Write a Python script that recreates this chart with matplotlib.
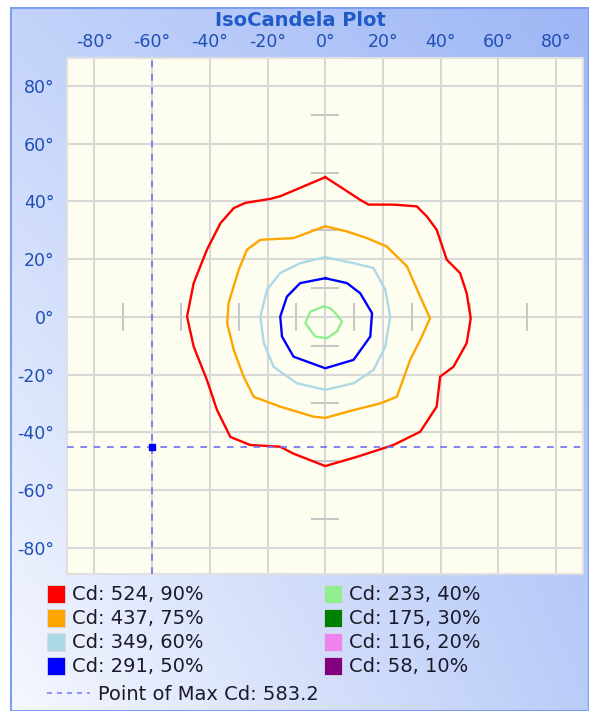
import numpy as np
import matplotlib.pyplot as plt
from matplotlib.patches import Rectangle
from matplotlib.lines import Line2D

# legend levels
cd_values = [524, 437, 349, 291, 233, 175, 116, 58]
percents = [90, 75, 60, 50, 40, 30, 20, 10]
level_colors = ['#FF0000', '#FFA500', '#ADD8E6', '#0000FF',
                '#90EE90', '#008000', '#EE82EE', '#800080']
max_cd = 583.2
max_point = (-60, -45)

# iso-candela contours (horizontal deg, vertical deg)
red_x = [0, 5, 12, 15, 23.6, 31.7, 35.2, 38.6, 42.1, 46.7, 49, 50.4, 49, 44.4, 39.8, 38.6,
         32.9, 23.6, 11, 0, -11, -15.6, -26, -32.9, -37.5, -41, -45.6, -47.9, -45.6, -41,
         -36.3, -31.7, -27.7, -19, -15.6, 0]
red_y = [48.4, 45.2, 40.6, 38.9, 38.9, 38.3, 34.8, 30.2, 19.8, 15.2, 8.2, -0.5, -9.1, -17.3,
         -20.7, -31.1, -39.8, -44.4, -48.5, -51.7, -47.4, -45, -44.4, -41.6, -32.3, -21.9,
         -10.3, 0.1, 11.7, 23.3, 32.5, 37.7, 39.5, 40.9, 41.8, 48.4]
orange_x = [0, 7.5, 14.4, 21.3, 28.3, 32.9, 36.3, 32.9, 29.4, 24.8, 19, 9.8, 0, -4, -15.6,
            -24.8, -28.3, -31.7, -34, -33.5, -30, -27.1, -22.5, -11, 0]
orange_y = [31.4, 29.6, 27.3, 24.4, 17.5, 7, -0.5, -8, -14.9, -27.7, -30, -32.3, -35, -34.6,
            -31.1, -27.7, -20.7, -11.5, -2.2, 4.8, 16.3, 23.3, 26.7, 27.3, 31.4]
lblue_x = [0, 9.8, 16.7, 20.8, 22.5, 20.8, 16.7, 9.8, 0, -9.8, -17.9, -21.3, -22.5, -20.2,
           -15.6, -8.7, 0]
lblue_y = [20.7, 18.6, 16.9, 9.4, 0.1, -10.3, -18.4, -23, -25.3, -23, -17.3, -9.1, 0.1, 9.4,
           15.2, 18.6, 20.7]
blue_x = [0, 7.5, 12.1, 16.2, 15.6, 9.8, 0, -11, -15, -15.6, -13.3, -8.7, 0]
blue_y = [13.4, 11.7, 8.2, 1.3, -6.8, -14.9, -17.8, -13.8, -6.8, 0.1, 7, 11.7, 13.4]
lgreen_x = [-0.6, 1.7, 3.5, 5.8, 4, 0.6, -3.5, -6.9, -5.2, -0.6]
lgreen_y = [3.6, 3, 1.3, -1.6, -5.1, -7.4, -6.8, -2.2, 1.8, 3.6]

contours = [(red_x, red_y, level_colors[0]),
            (orange_x, orange_y, level_colors[1]),
            (lblue_x, lblue_y, level_colors[2]),
            (blue_x, blue_y, level_colors[3]),
            (lgreen_x, lgreen_y, level_colors[4])]

W, H = 589, 711
fig = plt.figure(figsize=(W / 100, H / 100), dpi=100)
fig.patch.set_facecolor('white')

# background panel with a soft blue gradient
bg = fig.add_axes([0, 0, 1, 1])
bg.set_xlim(0, W)
bg.set_ylim(H, 0)
bg.axis('off')
tl = np.array([0xC3, 0xD3, 0xFA]) / 255
tr = np.array([0x9E, 0xB6, 0xF5]) / 255
bl = np.array([0xF6, 0xF8, 0xFE]) / 255
br = np.array([0xBA, 0xCC, 0xF8]) / 255
u = np.linspace(0, 1, 200)[None, :, None]
v = np.linspace(0, 1, 200)[:, None, None]
grad = (1 - u) * (1 - v) * tl + u * (1 - v) * tr + (1 - u) * v * bl + u * v * br
bg.imshow(grad, extent=[11, W, H, 8], aspect='auto', zorder=0)
bg.add_patch(Rectangle((11, 8), W - 11, H - 8, fill=False, edgecolor='#7D9EF2', lw=1.5))

bg.text(300, 21, 'IsoCandela Plot', ha='center', va='center', fontsize=14,
        fontweight='bold', color='#1E5AC8')

# legend
for i, (cd, p, c) in enumerate(zip(cd_values, percents, level_colors)):
    col, row = divmod(i, 4)
    x0 = 47 + col * 277
    y0 = 594 + row * 24
    bg.add_patch(Rectangle((x0, y0 - 9), 18, 18, facecolor=c, edgecolor='#D8D8E8', lw=0.6))
    bg.text(x0 + 25, y0 + 1, 'Cd: %d, %d%%' % (cd, p), ha='left', va='center',
            fontsize=14, color='#1A1A2A')
bg.add_line(Line2D([47, 90], [693, 693], color='#8080F0', lw=1.2, ls=(0, (3, 3))))
bg.text(98, 694, 'Point of Max Cd: %.1f' % max_cd, ha='left', va='center',
        fontsize=14, color='#1A1A2A')

# main plot
ax = fig.add_axes([66.7 / W, 1 - 574 / H, (582.7 - 66.7) / W, (574 - 58.3) / H])
ax.set_facecolor('#FEFEF0')
ax.set_xlim(-89.6, 89.2)
ax.set_ylim(-89.1, 89.6)
ticks = np.arange(-80, 81, 20)
ax.set_xticks(ticks)
ax.set_yticks(ticks)
ax.set_xticklabels(['%d°' % t for t in ticks])
ax.set_yticklabels(['%d°' % t for t in ticks])
ax.xaxis.tick_top()
ax.tick_params(length=0, labelsize=12.5, colors='#1F4FB4')
ax.tick_params(axis='x', pad=5)
ax.tick_params(axis='y', pad=9)
ax.grid(True, color='#D8D8D8', lw=1.5)
ax.set_axisbelow(True)
for s in ax.spines.values():
    s.set_color('#E0E0E0')
    s.set_linewidth(1.5)

# cross ticks along the zero axes
minor = [-70, -50, -30, -10, 10, 30, 50, 70]
for m in minor:
    ax.plot([-4.5, 4.5], [m, m], color='#C8C8C8', lw=1.5, zorder=1)
    ax.plot([m, m], [-4.5, 4.5], color='#C8C8C8', lw=1.5, zorder=1)

for xs, ys, c in contours:
    ax.plot(xs, ys, color=c, lw=1.7, zorder=3)

ax.axhline(max_point[1], color='#7070F0', lw=1.2, ls=(0, (4, 4)), zorder=4)
ax.axvline(max_point[0], color='#7070F0', lw=1.2, ls=(0, (4, 4)), zorder=4)
ax.plot([max_point[0]], [max_point[1]], marker='s', ms=5, color='#0000FF', zorder=5)

fig.savefig('out.png', dpi=100)
